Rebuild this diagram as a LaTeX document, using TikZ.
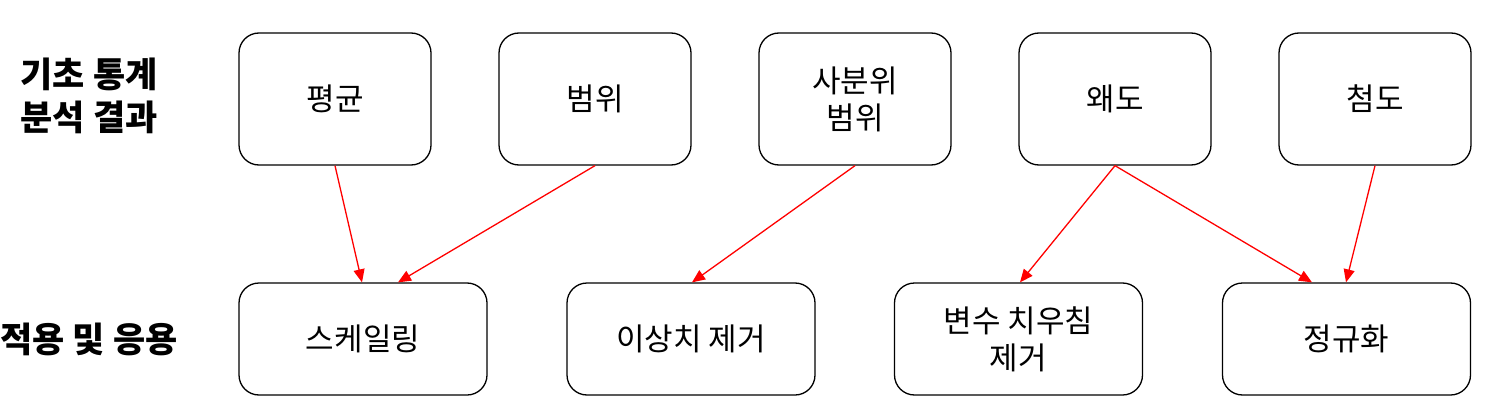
\documentclass[tikz,border=0pt]{standalone}
\usepackage{fontspec}
\setmainfont{Noto Sans CJK KR}
\usetikzlibrary{arrows.meta}
\begin{document}
\begin{tikzpicture}[x=1pt,y=-1pt,
  box/.style={draw=black,line width=1.3pt,rounded corners=20pt,align=center,font=\fontsize{31}{37}\selectfont,inner sep=0pt},
  lbl/.style={align=center,font=\fontsize{35}{43}\selectfont\bfseries},
  arr/.style={draw=red,line width=1.3pt,-{Triangle[length=13pt,width=11pt]}}]
\useasboundingbox (0,0) rectangle (1490,417);
\foreach \n/\x/\t in {a/335/평균, b/595/범위, c/855/{사분위\\범위}, d/1115/왜도, e/1375/첨도}{
  \node[box,minimum width=192pt,minimum height=132pt] (\n) at (\x,99) {\t};
}
\node[box,minimum width=248pt,minimum height=112pt] (f) at (363,339) {스케일링};
\node[box,minimum width=248pt,minimum height=112pt] (g) at (691,339) {이상치 제거};
\node[box,minimum width=248pt,minimum height=112pt] (h) at (1018.5,339) {변수 치우침\\제거};
\node[box,minimum width=248pt,minimum height=112pt] (i) at (1346.5,339) {정규화};
\node[lbl] (l1) at (89,96) {기초 통계\\분석 결과};
\node[lbl] (l2) at (89,339) {적용 및 응용};
\draw[arr] (a.south) -- ([xshift=-1pt]f.north);
\draw[arr] (b.south) -- ([xshift=35pt]f.north);
\draw[arr] (c.south) -- ([xshift=1pt]g.north);
\draw[arr] (d.south) -- ([xshift=1.5pt]h.north);
\draw[arr] (d.south) -- ([xshift=-34.5pt]i.north);
\draw[arr] (e.south) -- ([xshift=-0.5pt]i.north);
\end{tikzpicture}
\end{document}
